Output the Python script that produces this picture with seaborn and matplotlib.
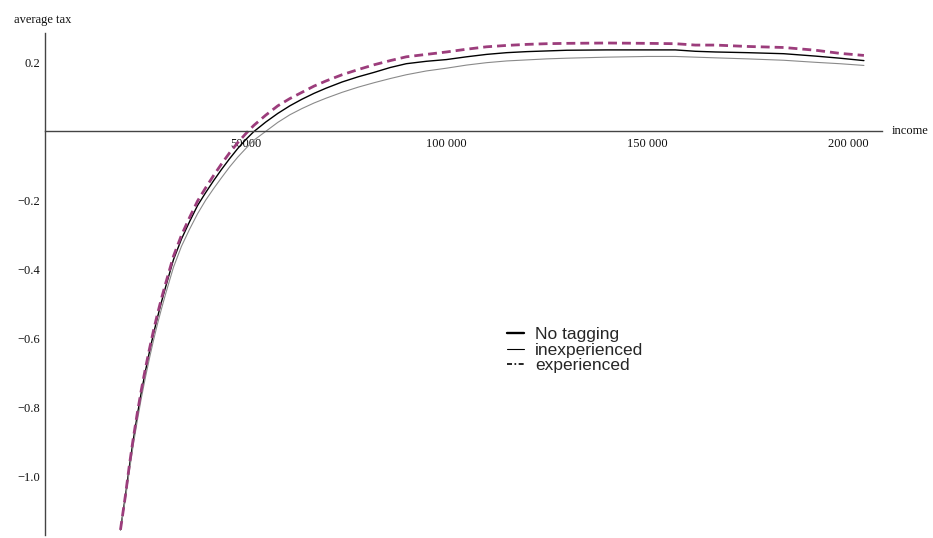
import numpy as np
import pandas as pd
import matplotlib
matplotlib.use("Agg")
import matplotlib.pyplot as plt
from matplotlib.ticker import FixedLocator
from matplotlib.lines import Line2D
import seaborn as sns

# ---------------- data ----------------
income = [18800, 20000, 21000, 22000, 23000, 24000, 25000, 26000, 27000, 28000,
          29000, 30000, 32000, 34000, 36000, 38000, 40000, 42000, 44000, 46000,
          48000, 50000, 52000, 55000, 58000, 61000, 64000, 67000, 70000, 74000,
          78000, 82000, 86000, 90000, 95000, 100000, 105000, 110000, 115000, 120000,
          125000, 130000, 140000, 150000, 157000, 162000, 167000, 175000, 184000, 192000,
          198000, 204000]

no_tagging = [-1.155, -1.060, -0.973, -0.894, -0.822, -0.756, -0.696, -0.640, -0.588, -0.540,
              -0.495, -0.453, -0.372, -0.312, -0.262, -0.215, -0.178, -0.143, -0.110, -0.079,
              -0.050, -0.024, -0.001, 0.027, 0.052, 0.074, 0.093, 0.110, 0.125, 0.143,
              0.158, 0.171, 0.185, 0.196, 0.203, 0.208, 0.216, 0.223, 0.228, 0.231,
              0.233, 0.235, 0.236, 0.236, 0.236, 0.232, 0.230, 0.228, 0.225, 0.218,
              0.212, 0.205]

inexperienced = [-1.155, -1.068, -0.985, -0.908, -0.838, -0.773, -0.714, -0.659, -0.607, -0.559,
                 -0.515, -0.473, -0.394, -0.333, -0.284, -0.239, -0.200, -0.166, -0.134, -0.103,
                 -0.075, -0.050, -0.026, 0.000, 0.026, 0.048, 0.066, 0.082, 0.096, 0.113,
                 0.128, 0.141, 0.153, 0.164, 0.175, 0.183, 0.192, 0.199, 0.204, 0.207,
                 0.210, 0.212, 0.215, 0.217, 0.217, 0.215, 0.213, 0.210, 0.206, 0.200,
                 0.196, 0.191]

experienced = [-1.155, -1.058, -0.969, -0.889, -0.816, -0.749, -0.688, -0.632, -0.579, -0.530,
               -0.485, -0.443, -0.362, -0.301, -0.250, -0.202, -0.164, -0.128, -0.094, -0.062,
               -0.033, -0.007, 0.017, 0.047, 0.074, 0.095, 0.113, 0.131, 0.146, 0.164,
               0.179, 0.193, 0.205, 0.216, 0.223, 0.230, 0.238, 0.245, 0.249, 0.252,
               0.254, 0.255, 0.256, 0.255, 0.254, 0.250, 0.250, 0.246, 0.243, 0.235,
               0.226, 0.220]

series_names = ["No tagging", "inexperienced", "experienced"]
x_tick_values = [50000, 100000, 150000, 200000]
x_tick_labels = ["50000", "100 000", "150 000", "200 000"]
y_tick_values = [0.2, -0.2, -0.4, -0.6, -0.8, -1.0]
y_tick_labels = ["0.2", "\u22120.2", "\u22120.4", "\u22120.6", "\u22120.8", "\u22121.0"]

df = pd.DataFrame({
    "income": income * 3,
    "tax": no_tagging + inexperienced + experienced,
    "series": [series_names[0]] * len(income) + [series_names[1]] * len(income)
              + [series_names[2]] * len(income),
})

# ---------------- style ----------------
sns.set_style("white")
plt.rcParams["font.family"] = ["Liberation Serif", "DejaVu Serif"]

fig = plt.figure(figsize=(9.33, 5.38), dpi=100)
ax = fig.add_axes([45 / 933, 3 / 538, (882 - 45) / 933, (535 - 33) / 538])

styles = {
    "No tagging": dict(color="#000000", lw=1.0, ls="-"),
    "inexperienced": dict(color="#8a8a8a", lw=0.8, ls="-"),
    "experienced": dict(color="#9c3d7c", lw=2.0, ls=(0, (3.2, 1.8))),
}
for name in series_names:
    st = styles[name]
    sns.lineplot(data=df[df["series"] == name], x="income", y="tax", ax=ax,
                 color=st["color"], linewidth=st["lw"], linestyle=st["ls"],
                 legend=False, estimator=None, sort=False)

ax.set_xlim(0, 208500)
ax.set_ylim(-1.17, 0.285)

for s in ["top", "right"]:
    ax.spines[s].set_visible(False)
ax.spines["bottom"].set_position(("data", 0))
ax.spines["left"].set_position(("data", 0))
for s in ["bottom", "left"]:
    ax.spines[s].set_color("#444444")
    ax.spines[s].set_linewidth(1.0)

ax.set_xticks(x_tick_values, labels=x_tick_labels)
ax.set_yticks(y_tick_values, labels=y_tick_labels)
ax.xaxis.set_minor_locator(FixedLocator([v for v in range(10000, 210000, 10000)]))
ax.yaxis.set_minor_locator(FixedLocator(list(np.round(np.arange(-1.15, 0.30, 0.05), 2))))

ax.tick_params(axis="both", which="major", direction="in", length=6, width=0.8,
               color="#444444", labelsize=9, labelcolor="#111111")
ax.tick_params(axis="both", which="minor", direction="in", length=3.5, width=0.8,
               color="#444444")
ax.tick_params(axis="x", which="major", pad=4.5)
ax.tick_params(axis="y", which="major", pad=3.5)

ax.set_xlabel("")
ax.set_ylabel("")
ax.grid(False)

fig.text(43 / 933, 1 - 20 / 538, "average tax", ha="center", va="center", fontsize=9,
         color="#111111")
ax.annotate("income", xy=(1, 0), xycoords=("axes fraction", "data"),
            xytext=(10, 0), textcoords="offset pixels", ha="left", va="center",
            fontsize=9, color="#111111")

handles = [
    Line2D([], [], color="black", lw=1.7, ls="-"),
    Line2D([], [], color="black", lw=0.8, ls="-"),
    Line2D([], [], color="black", lw=1.2, ls=(0, (3, 1.5, 1, 1.5))),
]
leg = fig.legend(handles, series_names, loc="upper left",
                 bbox_to_anchor=(507 / 933, 1 - 327 / 538), frameon=False,
                 prop={"family": ["Liberation Sans", "DejaVu Sans"], "size": 12.5},
                 handlelength=1.0, handletextpad=0.6, labelspacing=0.02,
                 borderpad=0, borderaxespad=0)

fig.savefig("out.png", dpi=100)
